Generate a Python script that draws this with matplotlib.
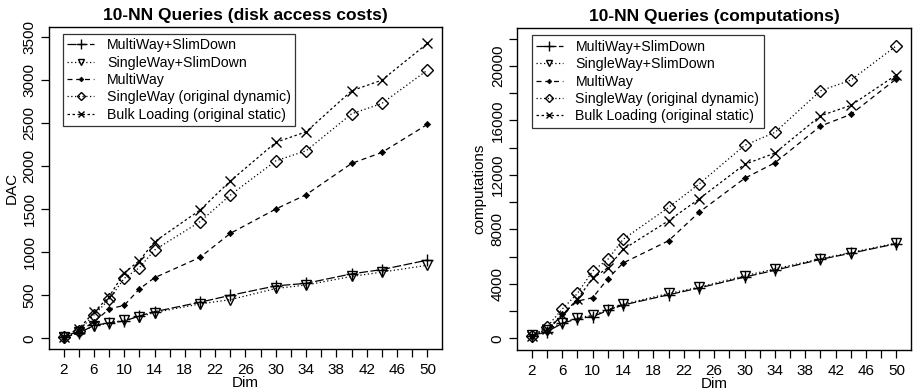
import matplotlib
matplotlib.use("Agg")
import matplotlib.pyplot as plt
from matplotlib.ticker import MultipleLocator, FixedLocator

plt.rcParams["font.family"] = ["Liberation Sans", "DejaVu Sans"]

# ── data ──────────────────────────────────────────────────────────────────
dims = [2, 4, 6, 8, 10, 12, 14, 20, 24, 30, 34, 40, 44, 50]

labels = [
    "MultiWay+SlimDown",
    "SingleWay+SlimDown",
    "MultiWay",
    "SingleWay (original dynamic)",
    "Bulk Loading (original static)",
]

# disk access costs
dac_multi_slim = [10, 60, 150, 180, 200, 260, 310, 420, 500, 610, 640, 750, 800, 910]
dac_single_slim = [15, 70, 140, 180, 210, 250, 300, 400, 450, 580, 620, 720, 770, 850]
dac_multi = [20, 80, 190, 341, 384, 574, 705, 942, 1221, 1504, 1671, 2035, 2163, 2489]
dac_single = [20, 90, 271, 453, 698, 822, 1027, 1357, 1667, 2065, 2182, 2612, 2733, 3120]
dac_bulk = [20, 110, 305, 485, 763, 903, 1124, 1492, 1830, 2280, 2403, 2880, 3004, 3431]

# computations
cmp_multi_slim = [200, 500, 1100, 1450, 1600, 2050, 2450, 3200, 3700, 4500, 5000, 5800, 6250, 6950]
cmp_single_slim = [250, 650, 1150, 1500, 1700, 2100, 2500, 3300, 3750, 4600, 5100, 5850, 6300, 7000]
cmp_multi = [150, 500, 1786, 2740, 2985, 4380, 5530, 7170, 9250, 11744, 12889, 15583, 16442, 19054]
cmp_single = [200, 856, 2153, 3303, 4943, 5800, 7268, 9617, 11327, 14166, 15120, 18174, 18957, 21477]
cmp_bulk = [200, 700, 1700, 2900, 4405, 5188, 6533, 8638, 10228, 12771, 13601, 16339, 17102, 19348]

# R-ish line styles and point characters
styles = [
    dict(ls=(0, (7, 2)), marker="+", ms=9, mew=1.0, mfc="none"),
    dict(ls=(0, (1, 2)), marker="v", ms=6.5, mew=1.0, mfc="none"),
    dict(ls=(0, (4, 3)), marker="D", ms=3.2, mew=0.5, mfc="black"),
    dict(ls=(0, (1, 2)), marker="D", ms=6, mew=1.0, mfc="none"),
    dict(ls=(0, (2, 2)), marker="x", ms=6.5, mew=1.0, mfc="none"),
]


def draw(ax, series, title, ylabel, ylim, ymajor, yminor):
    for vals, lab, st in zip(series, labels, styles):
        ax.plot(dims, vals, color="black", lw=0.9, label=lab, linestyle=st["ls"],
                marker=st["marker"], markersize=st["ms"], markeredgewidth=st["mew"],
                markerfacecolor=st["mfc"], markeredgecolor="black")
    ax.set_xlim(0.08, 51.92)
    ax.set_ylim(*ylim)
    ax.xaxis.set_major_locator(FixedLocator(range(2, 51, 4)))
    ax.xaxis.set_minor_locator(FixedLocator(range(4, 51, 4)))
    ax.yaxis.set_major_locator(MultipleLocator(ymajor))
    if yminor:
        ax.yaxis.set_minor_locator(MultipleLocator(yminor))
    ax.tick_params(which="both", direction="out", length=6, width=0.9, labelsize=11, pad=4)
    ax.tick_params(axis="y", which="both", labelrotation=90, pad=3)
    for lbl in ax.get_yticklabels():
        lbl.set_verticalalignment("center")
    ax.set_title(title, fontsize=12.5, fontweight="bold", pad=5)
    ax.set_xlabel("Dim", fontsize=11, labelpad=-1)
    ax.set_ylabel(ylabel, fontsize=11, labelpad=3)
    for sp in ax.spines.values():
        sp.set_linewidth(1.0)
    leg = ax.legend(loc="upper left", bbox_to_anchor=(0.036, 0.978), fontsize=10.2,
                    frameon=True, fancybox=False, edgecolor="black", handlelength=1.9,
                    handletextpad=0.9, borderpad=0.3, labelspacing=0.24,
                    borderaxespad=0, markerscale=0.75)
    leg.get_frame().set_linewidth(0.9)


fig = plt.figure(figsize=(9.15, 3.89), dpi=100)
ax1 = fig.add_axes([0.0536, 0.102, 0.4294, 0.829])
ax2 = fig.add_axes([0.5654, 0.100, 0.4302, 0.827])

draw(ax1, [dac_multi_slim, dac_single_slim, dac_multi, dac_single, dac_bulk],
     "10-NN Queries (disk access costs)", "DAC", (-128, 3624), 500, None)
draw(ax2, [cmp_multi_slim, cmp_single_slim, cmp_multi, cmp_single, cmp_bulk],
     "10-NN Queries (computations)", "computations", (-859, 22754), 4000, 2000)

fig.savefig("out.png", dpi=100)
